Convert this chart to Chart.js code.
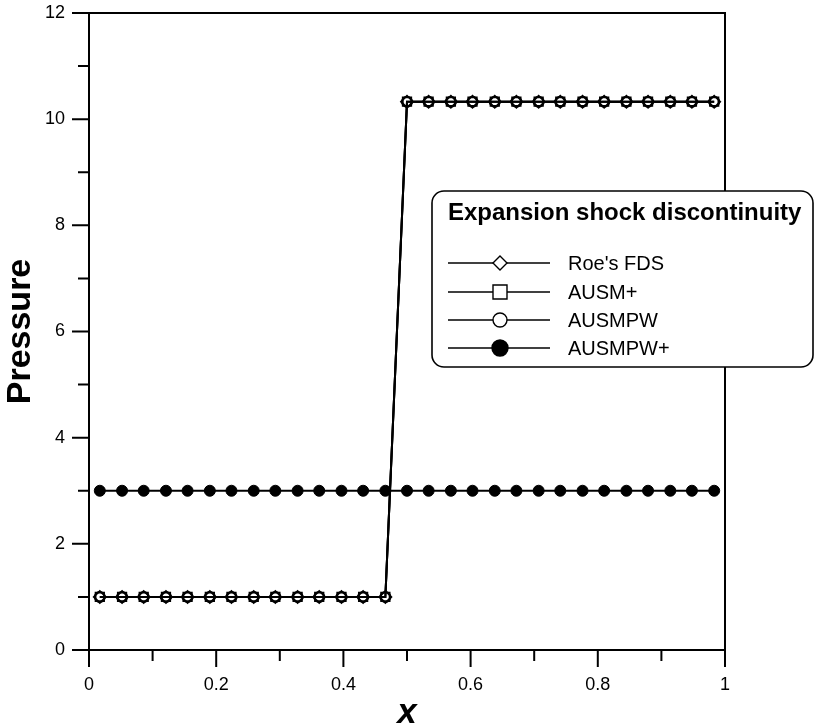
<!DOCTYPE html>
<html><head><meta charset="utf-8">
<script src="https://cdn.jsdelivr.net/npm/chart.js@4/dist/chart.umd.min.js"></script>
<style>html,body{margin:0;padding:0;background:#fff}</style>
</head><body>
<canvas id="c" width="818" height="728"></canvas>
<script>
// ---- data ----
const xPositions = [0.017,0.052,0.086,0.121,0.155,0.190,0.224,0.259,0.293,0.328,0.362,0.397,0.431,0.466,
                    0.500,0.534,0.569,0.603,0.638,0.672,0.707,0.741,0.776,0.810,0.845,0.879,0.914,0.948,0.983];
const roeFDS   = [1,1,1,1,1,1,1,1,1,1,1,1,1,1, 10.33,10.33,10.33,10.33,10.33,10.33,10.33,10.33,10.33,10.33,10.33,10.33,10.33,10.33,10.33];
const ausmPlus = [1,1,1,1,1,1,1,1,1,1,1,1,1,1, 10.33,10.33,10.33,10.33,10.33,10.33,10.33,10.33,10.33,10.33,10.33,10.33,10.33,10.33,10.33];
const ausmpw   = [1,1,1,1,1,1,1,1,1,1,1,1,1,1, 10.33,10.33,10.33,10.33,10.33,10.33,10.33,10.33,10.33,10.33,10.33,10.33,10.33,10.33,10.33];
const ausmpwPlus = [3,3,3,3,3,3,3,3,3,3,3,3,3,3,3,3,3,3,3,3,3,3,3,3,3,3,3,3,3];
const seriesNames = ["Roe's FDS","AUSM+","AUSMPW","AUSMPW+"];
const legendTitle = "Expansion shock discontinuity";
const xTitle = "x";
const yTitle = "Pressure";
const xMajorTicks = [0,0.2,0.4,0.6,0.8,1];
const xMinorTicks = [0.1,0.3,0.5,0.7,0.9];
const yMajorTicks = [0,2,4,6,8,10,12];
const yMinorTicks = [1,3,5,7,9,11];

const FONT = '"Liberation Sans", Arial, Helvetica, sans-serif';
const pts = arr => arr.map((v,i)=>({x:xPositions[i], y:v}));

const frameAndTicks = {
  id:'frameAndTicks',
  afterDatasetsDraw(chart){
    const {ctx, chartArea:a, scales:{x,y}} = chart;
    ctx.save();
    ctx.strokeStyle='#000'; ctx.lineWidth=2; ctx.lineCap='butt';
    ctx.strokeRect(a.left, a.top, a.right-a.left, a.bottom-a.top);
    ctx.beginPath();
    xMajorTicks.forEach(v=>{const p=x.getPixelForValue(v); ctx.moveTo(p,a.bottom); ctx.lineTo(p,a.bottom+17);});
    xMinorTicks.forEach(v=>{const p=x.getPixelForValue(v); ctx.moveTo(p,a.bottom); ctx.lineTo(p,a.bottom+11);});
    yMajorTicks.forEach(v=>{const p=y.getPixelForValue(v); ctx.moveTo(a.left,p); ctx.lineTo(a.left-17,p);});
    yMinorTicks.forEach(v=>{const p=y.getPixelForValue(v); ctx.moveTo(a.left,p); ctx.lineTo(a.left-11,p);});
    ctx.stroke();
    ctx.restore();
  }
};

function marker(ctx, style, cx, cy, r, filled){
  ctx.beginPath();
  if(style==='rectRot'){ ctx.moveTo(cx,cy-r); ctx.lineTo(cx+r,cy); ctx.lineTo(cx,cy+r); ctx.lineTo(cx-r,cy); ctx.closePath(); }
  else if(style==='rect'){ ctx.rect(cx-r,cy-r,2*r,2*r); }
  else { ctx.arc(cx,cy,r,0,Math.PI*2); }
  ctx.fillStyle = filled ? '#000' : '#fff';
  ctx.fill(); ctx.stroke();
}

const legendBox = {
  id:'legendBox',
  afterDraw(chart){
    const ctx = chart.ctx;
    ctx.save();
    const L=432, T=191, R=813, B=367, rad=12;
    ctx.beginPath();
    ctx.moveTo(L+rad,T); ctx.lineTo(R-rad,T); ctx.arcTo(R,T,R,T+rad,rad);
    ctx.lineTo(R,B-rad); ctx.arcTo(R,B,R-rad,B,rad);
    ctx.lineTo(L+rad,B); ctx.arcTo(L,B,L,B-rad,rad);
    ctx.lineTo(L,T+rad); ctx.arcTo(L,T,L+rad,T,rad); ctx.closePath();
    ctx.fillStyle='#fff'; ctx.fill();
    ctx.strokeStyle='#000'; ctx.lineWidth=1.6; ctx.stroke();
    ctx.fillStyle='#000'; ctx.textBaseline='middle'; ctx.textAlign='left';
    ctx.font='bold 24px '+FONT;
    ctx.fillText(legendTitle, 448, 213);
    const rows=[263,292,320,348];
    const sizes=[7,7,7,8];
    chart.data.datasets.forEach((ds,i)=>{
      const yy=rows[i];
      ctx.lineWidth=1.6; ctx.strokeStyle='#000';
      ctx.beginPath(); ctx.moveTo(448,yy); ctx.lineTo(550,yy); ctx.stroke();
      ctx.lineWidth=1.4;
      marker(ctx, ds.pointStyle, 500, yy, sizes[i], ds.pointBackgroundColor==='#000');
      ctx.fillStyle='#000'; ctx.font='20px '+FONT;
      ctx.fillText(ds.label, 568, yy+1);
    });
    ctx.restore();
  }
};

new Chart(document.getElementById('c'), {
  type:'line',
  data:{datasets:[
    {label:seriesNames[0], data:pts(roeFDS), pointStyle:'rectRot', pointRadius:6, pointBackgroundColor:'rgba(0,0,0,0)', borderColor:'#000', pointBorderColor:'#000', pointBorderWidth:1.8, borderWidth:2, order:1},
    {label:seriesNames[1], data:pts(ausmPlus), pointStyle:'rect', pointRadius:6, pointBackgroundColor:'#fff', borderColor:'#000', pointBorderColor:'#000', pointBorderWidth:1.8, borderWidth:2, order:3},
    {label:seriesNames[2], data:pts(ausmpw), pointStyle:'circle', pointRadius:5, pointBackgroundColor:'rgba(0,0,0,0)', borderColor:'#000', pointBorderColor:'#000', pointBorderWidth:2, borderWidth:2, order:2},
    {label:seriesNames[3], data:pts(ausmpwPlus), pointStyle:'circle', pointRadius:5.5, pointBackgroundColor:'#000', borderColor:'#000', pointBorderColor:'#000', pointBorderWidth:1, borderWidth:2, order:4}
  ]},
  options:{
    responsive:false, animation:false, devicePixelRatio:1,
    layout:{padding:{top:13, right:93, left:0, bottom:0}},
    plugins:{legend:{display:false}, tooltip:{enabled:false}},
    elements:{line:{tension:0}},
    scales:{
      x:{type:'linear', min:0, max:1,
         afterBuildTicks:s=>{s.ticks=xMajorTicks.map(v=>({value:v}));},
         afterFit:s=>{s.height=78; s.paddingLeft=0; s.paddingRight=0;},
         grid:{display:false, drawTicks:false}, border:{display:false},
         ticks:{padding:24, color:'#000', font:{family:FONT, size:18}, maxRotation:0, callback:v=>String(v)},
         title:{display:true, text:xTitle, color:'#000', font:{family:FONT, size:35, weight:'bold', style:'italic', lineHeight:0.85}, padding:{top:0,bottom:0}}},
      y:{type:'linear', min:0, max:12,
         afterBuildTicks:s=>{s.ticks=yMajorTicks.map(v=>({value:v}));},
         afterFit:s=>{s.width=89; s.paddingTop=0; s.paddingBottom=0;},
         grid:{display:false, drawTicks:false}, border:{display:false},
         ticks:{padding:24, color:'#000', font:{family:FONT, size:18}, callback:v=>String(v)},
         title:{display:true, text:yTitle, color:'#000', font:{family:FONT, size:34, weight:'bold'}, padding:{top:0,bottom:0}}}
    }
  },
  plugins:[frameAndTicks, legendBox]
});
</script>
</body></html>
